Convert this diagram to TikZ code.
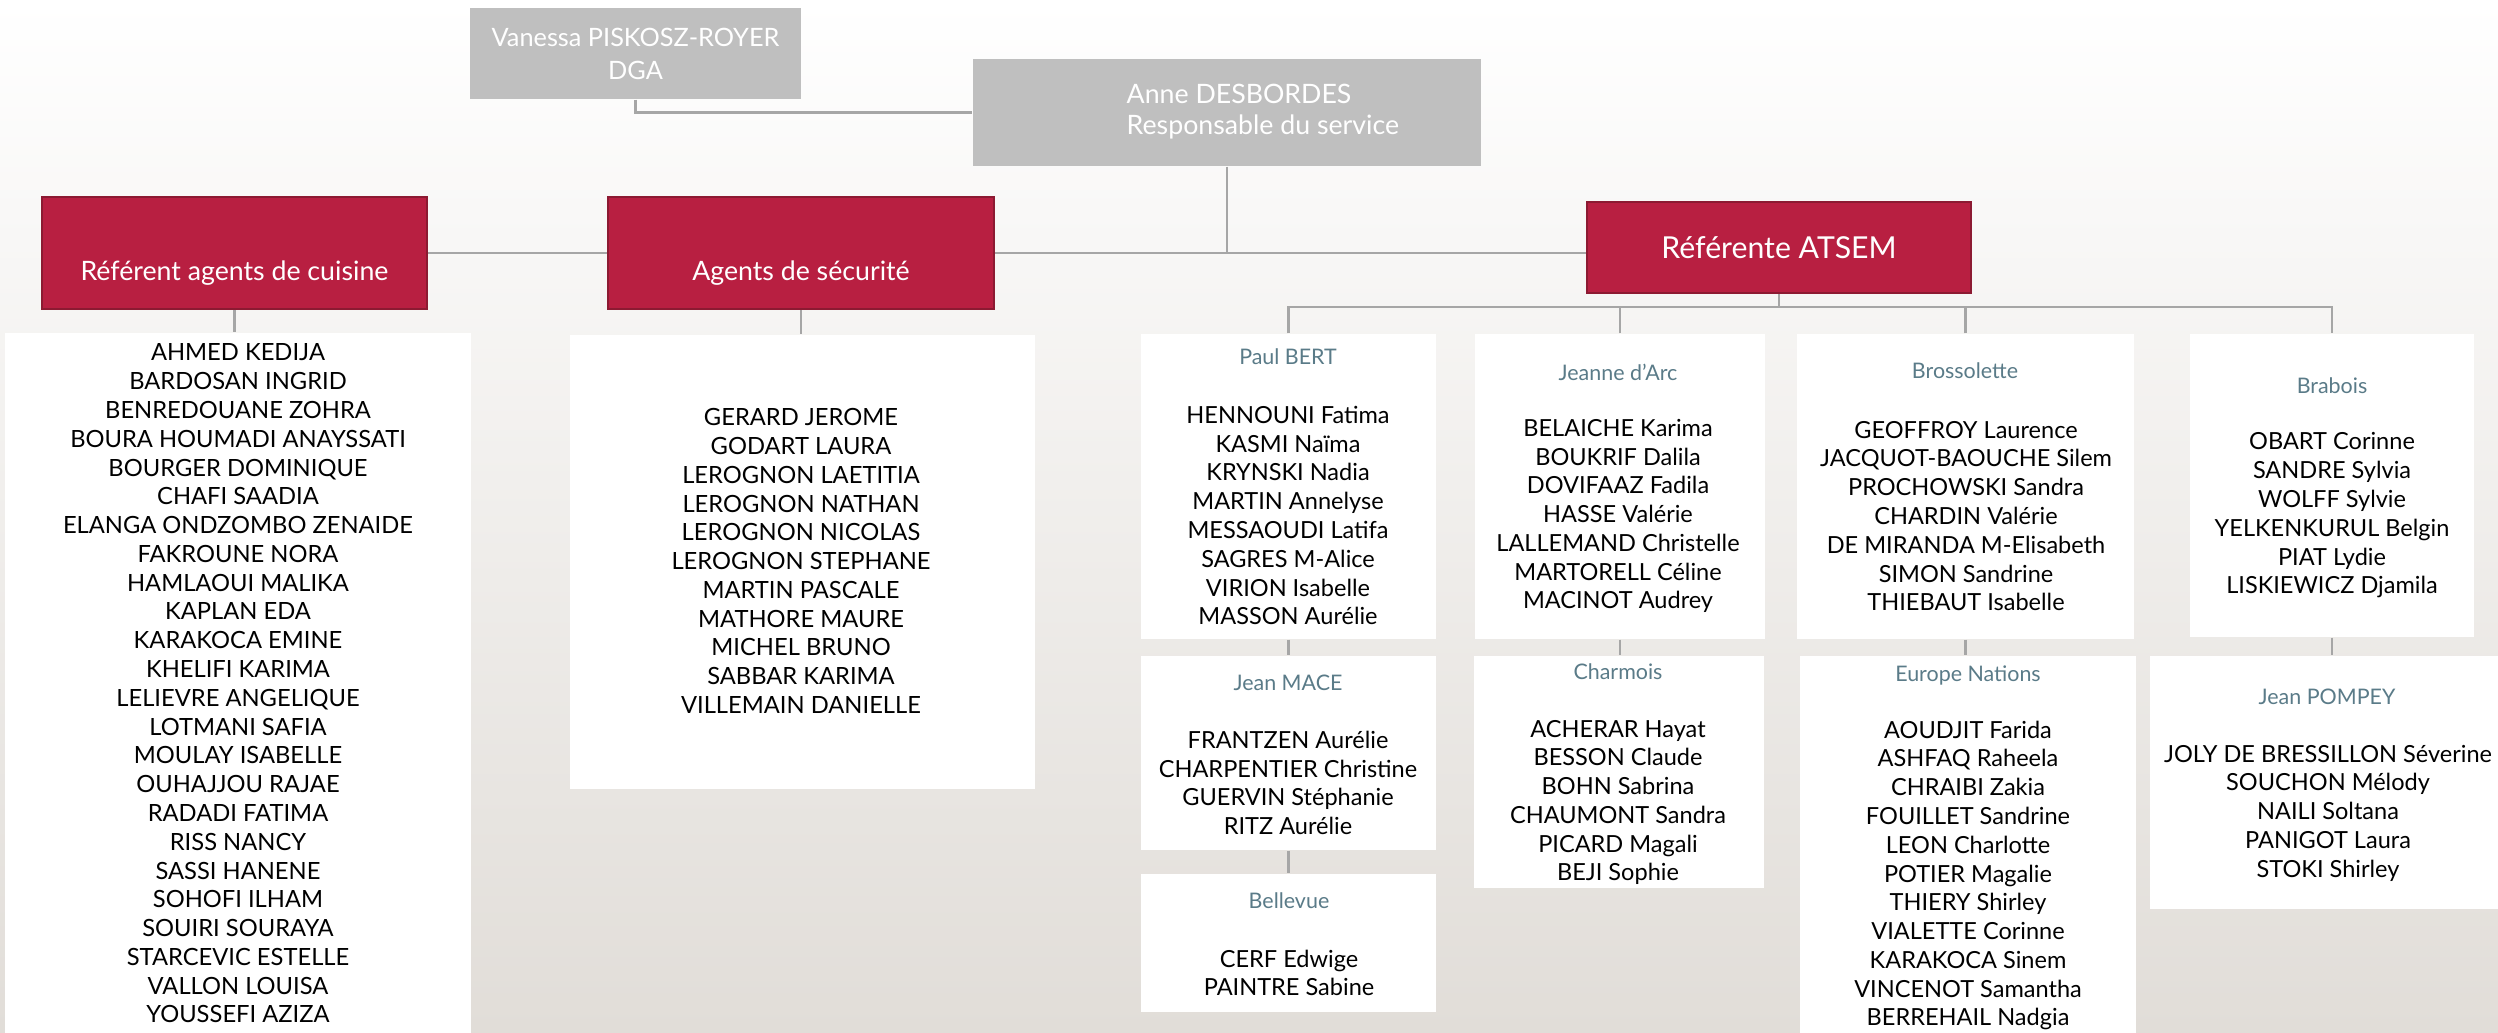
\documentclass[tikz,border=0pt]{standalone}
\usepackage{fontspec}
\setmainfont{Lato}

\definecolor{rouge}{HTML}{B81F41}
\definecolor{rougefonce}{HTML}{8C1A32}
\definecolor{gris}{HTML}{BFBFBF}
\definecolor{trait}{HTML}{A6A6A6}
\definecolor{titre}{HTML}{5A7B88}
\definecolor{fondbas}{HTML}{E1DDD8}

\tikzset{
  boxgris/.style={fill=gris, text=white, inner sep=0pt, align=center},
  boxrouge/.style={fill=rouge, draw=rougefonce, line width=0.7pt, inner sep=0pt},
  boxliste/.style={fill=white, inner sep=0pt},
  txtrouge/.style={text=white, font=\fontsize{7.6}{9}\selectfont},
  nom/.style={align=center, font=\fontsize{6.7}{8.19}\selectfont},
  titre/.style={text=titre, font=\fontsize{6.1}{8}\selectfont},
  lien/.style={draw=trait, line width=0.6pt}
}

\begin{document}
\begin{tikzpicture}[x=0.1mm, y=-0.1mm]
    \useasboundingbox (0,0) rectangle (2498,1032);
    \clip (0,0) rectangle (2498,1032);
    \shade[top color=white, bottom color=fondbas] (0,0) rectangle (2498,1032);

    % direction
    \node[boxgris, minimum width=33.1mm, minimum height=9.1mm,
          font=\fontsize{7.2}{9.4}\selectfont] (vanessa) at (635.5,53.5)
          {Vanessa PISKOSZ-ROYER\\DGA};
    \node[boxgris, minimum width=50.8mm, minimum height=10.7mm] (anne) at (1227,112.5) {};
    \node[text=white, align=left, anchor=west, inner sep=0pt,
          font=\fontsize{7.6}{8.8}\selectfont] (annetxt) at (1126,112)
          {Anne DESBORDES\\Responsable du service};

    % referents
    \node[boxrouge, minimum width=38.5mm, minimum height=11.2mm] (cuisine) at (234.5,253) {};
    \node[txtrouge] (cuisinetxt) at (234.5,273) {Référent agents de cuisine};
    \node[boxrouge, minimum width=38.6mm, minimum height=11.2mm] (securite) at (801,253) {};
    \node[txtrouge] (securitetxt) at (801,273) {Agents de sécurité};
    \node[boxrouge, minimum width=38.4mm, minimum height=9.1mm, text=white,
          font=\fontsize{8.6}{10}\selectfont] (atsem) at (1779,247.5) {Référente ATSEM};

    % listes
    \node[boxliste, minimum width=46.6mm, minimum height=71.2mm] (listecuisine) at (238,689) {};
    \node[nom, font=\fontsize{6.75}{8.19}\selectfont] (n-cuisine) at (238,683.5)
      {AHMED KEDIJA\\BARDOSAN INGRID\\BENREDOUANE ZOHRA\\BOURA HOUMADI ANAYSSATI\\
       BOURGER DOMINIQUE\\CHAFI SAADIA\\ELANGA ONDZOMBO ZENAIDE\\FAKROUNE NORA\\
       HAMLAOUI MALIKA\\KAPLAN EDA\\KARAKOCA EMINE\\KHELIFI KARIMA\\
       LELIEVRE ANGELIQUE\\LOTMANI SAFIA\\MOULAY ISABELLE\\OUHAJJOU RAJAE\\
       RADADI FATIMA\\RISS NANCY\\SASSI HANENE\\SOHOFI ILHAM\\
       SOUIRI SOURAYA\\STARCEVIC ESTELLE\\VALLON LOUISA\\YOUSSEFI AZIZA};

    \node[boxliste, minimum width=46.5mm, minimum height=45.4mm] (listesecu) at (802.5,562) {};
    \node[nom, font=\fontsize{6.75}{8.19}\selectfont] (n-secu) at (801,561)
      {GERARD JEROME\\GODART LAURA\\LEROGNON LAETITIA\\LEROGNON NATHAN\\
       LEROGNON NICOLAS\\LEROGNON STEPHANE\\MARTIN PASCALE\\MATHORE MAURE\\
       MICHEL BRUNO\\SABBAR KARIMA\\VILLEMAIN DANIELLE};

    % ecoles
    \node[boxliste, minimum width=29.5mm, minimum height=30.5mm] (paulbert) at (1288.5,486.5) {};
    \node[titre] (t-paulbert) at (1288,357) {Paul BERT};
    \node[nom] (n-paulbert) at (1288,515.5)
      {HENNOUNI Fatima\\KASMI Naïma\\KRYNSKI Nadia\\MARTIN Annelyse\\
       MESSAOUDI Latifa\\SAGRES M-Alice\\VIRION Isabelle\\MASSON Aurélie};

    \node[boxliste, minimum width=29.5mm, minimum height=19.4mm] (jeanmace) at (1288.5,753) {};
    \node[titre] (t-jeanmace) at (1288,683) {Jean MACE};
    \node[nom] (n-jeanmace) at (1288,783)
      {FRANTZEN Aurélie\\CHARPENTIER Christine\\GUERVIN Stéphanie\\RITZ Aurélie};

    \node[boxliste, minimum width=29.5mm, minimum height=13.8mm] (bellevue) at (1288.5,943) {};
    \node[titre] (t-bellevue) at (1289,901) {Bellevue};
    \node[nom] (n-bellevue) at (1289,973) {CERF Edwige\\PAINTRE Sabine};

    \node[boxliste, minimum width=29mm, minimum height=30.5mm] (jeanne) at (1620,486.5) {};
    \node[titre] (t-jeanne) at (1618,372) {Jeanne d’Arc};
    \node[nom] (n-jeanne) at (1618,516)
      {BELAICHE Karima\\BOUKRIF Dalila\\DOVIFAAZ Fadila\\HASSE Valérie\\
       LALLEMAND Christelle\\MARTORELL Céline\\MACINOT Audrey};

    \node[boxliste, minimum width=29mm, minimum height=23.2mm] (charmois) at (1619,772) {};
    \node[titre] (t-charmois) at (1618,672) {Charmois};
    \node[nom] (n-charmois) at (1618,802.5)
      {ACHERAR Hayat\\BESSON Claude\\BOHN Sabrina\\CHAUMONT Sandra\\
       PICARD Magali\\BEJI Sophie};

    \node[boxliste, minimum width=33.7mm, minimum height=30.5mm] (brossolette) at (1965.5,486.5) {};
    \node[titre] (t-brossolette) at (1965,371) {Brossolette};
    \node[nom] (n-brossolette) at (1966,516)
      {GEOFFROY Laurence\\JACQUOT-BAOUCHE Silem\\PROCHOWSKI Sandra\\CHARDIN Valérie\\
       DE MIRANDA M-Elisabeth\\SIMON Sandrine\\THIEBAUT Isabelle};

    \node[boxliste, minimum width=33.6mm, minimum height=38.9mm] (europe) at (1968,850.5) {};
    \node[titre] (t-europe) at (1968,675) {Europe Nations};
    \node[nom] (n-europe) at (1968,875.5)
      {AOUDJIT Farida\\ASHFAQ Raheela\\CHRAIBI Zakia\\FOUILLET Sandrine\\
       LEON Charlotte\\POTIER Magalie\\THIERY Shirley\\VIALETTE Corinne\\
       KARAKOCA Sinem\\VINCENOT Samantha\\BERREHAIL Nadgia};

    \node[boxliste, minimum width=28.4mm, minimum height=30.3mm] (brabois) at (2332,485.5) {};
    \node[titre] (t-brabois) at (2332,386) {Brabois};
    \node[nom] (n-brabois) at (2332,515.5)
      {OBART Corinne\\SANDRE Sylvia\\WOLFF Sylvie\\YELKENKURUL Belgin\\
       PIAT Lydie\\LISKIEWICZ Djamila};

    \node[boxliste, minimum width=36mm, minimum height=25.3mm] (pompey) at (2330,782.5) {};
    \node[titre] (t-pompey) at (2327,697) {Jean POMPEY};
    \node[nom] (n-pompey) at (2328,813)
      {JOLY DE BRESSILLON Séverine\\SOUCHON Mélody\\NAILI Soltana\\
       PANIGOT Laura\\STOKI Shirley};

    % liens
    \draw[lien] (vanessa.south) |- (anne.west);
    \draw[lien] (anne.south) -- (anne.south |- securite.east);
    \draw[lien] (cuisine.east) -- (securite.west);
    \draw[lien] (securite.east) -- (securite.east -| atsem.west);
    \draw[lien] (cuisine.south) -- (cuisine.south |- listecuisine.north);
    \draw[lien] (securite.south) -- (securite.south |- listesecu.north);

    \coordinate (barre) at (1779,307);
    \draw[lien] (atsem.south) -- (barre);
    \draw[lien] (paulbert.north) |- (barre -| brabois.north) -- (brabois.north);
    \draw[lien] (jeanne.north) -- (jeanne.north |- barre);
    \draw[lien] (brossolette.north) -- (brossolette.north |- barre);

    \draw[lien] (paulbert.south) -- (jeanmace.north);
    \draw[lien] (jeanmace.south) -- (bellevue.north);
    \draw[lien] (jeanne.south) -- (jeanne.south |- charmois.north);
    \draw[lien] (brossolette.south) -- (brossolette.south |- europe.north);
    \draw[lien] (brabois.south) -- (brabois.south |- pompey.north);
\end{tikzpicture}
\end{document}
